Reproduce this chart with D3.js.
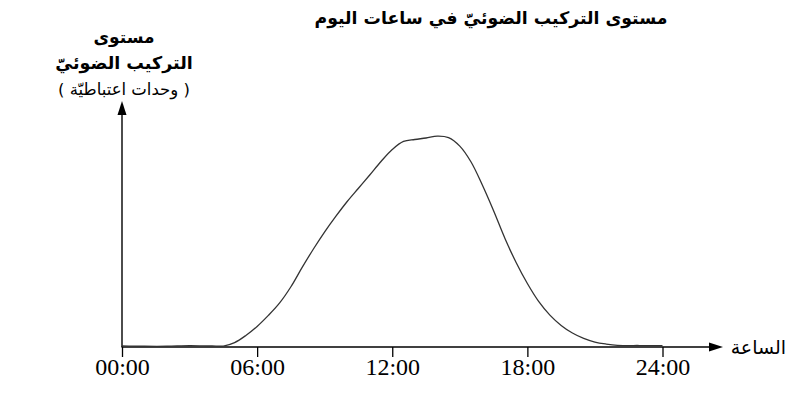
<!DOCTYPE html>
<html><head><meta charset="utf-8">
<script src="https://cdn.jsdelivr.net/npm/d3@7"></script>
<style>body{margin:0;background:#fff}svg{display:block}</style>
</head><body>
<script>
const title = "مستوى التركيب الضوئيّ في ساعات اليوم";
const yLabelLines = ["مستوى", "التركيب الضوئيّ", "( وحدات اعتباطيّة )"];
const xLabel = "الساعة";
const tickHours = [0, 6, 12, 18, 24];
const tickLabels = ["00:00", "06:00", "12:00", "18:00", "24:00"];
const hours = [0,1,2,3,4,4.5,5,5.5,6,6.5,7,7.5,8,8.5,9,9.5,10,10.5,11,11.5,12,12.5,13,13.5,14,14.5,15,15.5,16,16.5,17,17.5,18,18.5,19,19.5,20,20.5,21,21.5,22,23,24];
const level = [0.5,0.3,0.3,0.6,0.4,0.4,1.8,4.7,8.4,12.9,18.0,24.6,32.5,40.0,47.0,53.4,59.4,64.8,70.2,75.7,80.6,83.9,84.7,85.3,86.1,85.5,82.0,75.5,66.1,55.6,44.4,34.5,25.9,18.6,13.0,8.8,5.7,3.5,2.0,1.2,0.7,0.6,0.6];

const W = 803, H = 409;
const svg = d3.select("body").append("svg").attr("width", W).attr("height", H);

const x = d3.scaleLinear().domain([0, 24]).range([122, 662.5]);
const y = d3.scaleLinear().domain([0, 100]).range([347, 102]);

// x axis
const xAxis = d3.axisBottom(x).tickValues(tickHours).tickFormat((d, i) => tickLabels[i]).tickSize(10).tickSizeOuter(0);
const gx = svg.append("g").attr("transform", `translate(0,${y(0)})`).call(xAxis);
gx.select(".domain").remove();
gx.selectAll(".tick line").attr("stroke", "#000").attr("stroke-width", 1.3);
gx.selectAll(".tick text").attr("font-family", "Liberation Serif, Times New Roman, serif")
  .attr("font-size", 24).attr("fill", "#000").attr("dy", 0).attr("y", 28);

// axis lines with arrows
svg.append("line").attr("x1", x(0) - 0.5).attr("x2", 712).attr("y1", y(0)).attr("y2", y(0))
  .attr("stroke", "#000").attr("stroke-width", 1.4);
svg.append("path").attr("d", `M723,${y(0)} L709,${y(0)-4.5} L709,${y(0)+4.5} Z`).attr("fill", "#000");
svg.append("line").attr("x1", x(0)).attr("x2", x(0)).attr("y1", y(0)).attr("y2", 112)
  .attr("stroke", "#000").attr("stroke-width", 1.4);
svg.append("path").attr("d", `M${x(0)},101 L${x(0)-4.5},115 L${x(0)+4.5},115 Z`).attr("fill", "#000");

// curve
const data = hours.map((h, i) => ({h, v: level[i]}));
const line = d3.line().x(d => x(d.h)).y(d => y(d.v)).curve(d3.curveCatmullRom.alpha(0.5));
svg.append("path").datum(data).attr("d", line).attr("fill", "none")
  .attr("stroke", "#333").attr("stroke-width", 1.3);

const arFont = "DejaVu Sans, Noto Sans, sans-serif";
svg.append("text").attr("x", 491).attr("y", 24).attr("text-anchor", "middle")
  .attr("direction", "rtl").attr("font-family", arFont).attr("font-weight", "bold")
  .attr("font-size", 17.3).text(title);

const ylx = 124;
svg.append("text").attr("x", ylx).attr("y", 43).attr("text-anchor", "middle").attr("direction", "rtl")
  .attr("font-family", arFont).attr("font-weight", "bold").attr("font-size", 17).text(yLabelLines[0]);
svg.append("text").attr("x", ylx).attr("y", 69).attr("text-anchor", "middle").attr("direction", "rtl")
  .attr("font-family", arFont).attr("font-weight", "bold").attr("font-size", 17.5).text(yLabelLines[1]);
svg.append("text").attr("x", ylx).attr("y", 95).attr("text-anchor", "middle").attr("direction", "rtl")
  .attr("font-family", arFont).attr("font-size", 16.5).text(yLabelLines[2]);

svg.append("text").attr("x", 786).attr("y", 354).attr("text-anchor", "start").attr("direction", "rtl")
  .attr("font-family", arFont).attr("font-size", 19).text(xLabel);
</script>
</body></html>
